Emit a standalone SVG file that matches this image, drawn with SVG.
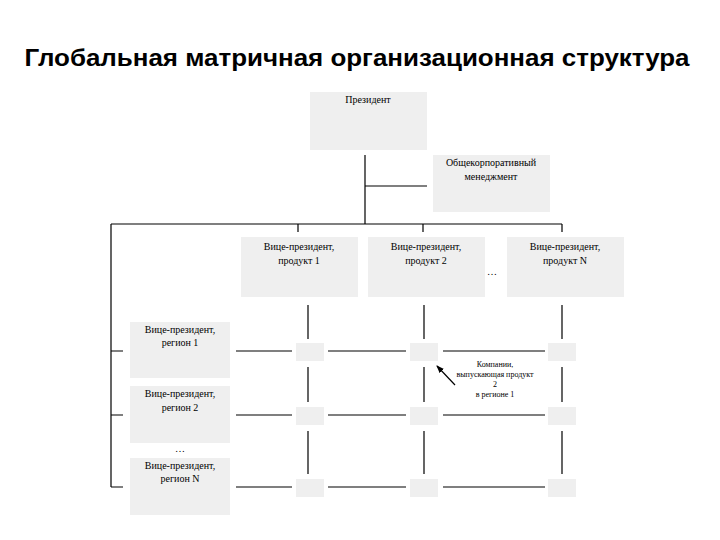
<svg xmlns="http://www.w3.org/2000/svg" width="720" height="540" viewBox="0 0 720 540">
<style>
.b{fill:#efefef}
.t{font-family:"Liberation Serif",serif;font-size:10px;text-anchor:middle;fill:#000}
.s{font-family:"Liberation Serif",serif;font-size:8px;text-anchor:middle;fill:#000}
.l{stroke:#000;stroke-width:1.2;fill:none}
</style>
<defs><marker id="a" markerWidth="8" markerHeight="8" refX="7" refY="4" orient="auto" markerUnits="userSpaceOnUse"><path d="M0,1 L8,4 L0,7Z" fill="#000"/></marker></defs>
<rect width="720" height="540" fill="#fff"/>
<text x="357" y="66" font-family="Liberation Sans,sans-serif" font-weight="bold" font-size="23" text-anchor="middle" textLength="665" lengthAdjust="spacingAndGlyphs">Глобальная матричная организационная структура</text>
<g id="connectors">
<path class="l" d="M365 155V224M365 186H427M111 224H562M298 224V232M423 224V232M562 224V232M111 224V487"/>
<path class="l" d="M111 351H123M111 415H123M111 487H123"/>
<path class="l" d="M236 351H292M328 351H406M443 351H545M236 415H292M328 415H406M443 415H545M236 487H292M328 487H406M443 487H545"/>
<path class="l" d="M308 305V339M308 367V402M308 431V474M424 305V339M424 367V402M424 431V474M562 305V339M562 367V402M562 431V474"/>
<path class="l" d="M455 385L437 366" marker-end="url(#a)"/>
</g>
<g id="president"><rect class="b" x="310" y="92" width="117" height="58"/><text class="t" x="368" y="103">Президент</text></g>
<g id="corp"><rect class="b" x="433" y="155" width="117" height="57"/><text class="t" x="491" y="166">Общекорпоративный</text><text class="t" x="491" y="180">менеджмент</text></g>
<g id="p1"><rect class="b" x="241" y="237" width="117" height="60"/><text class="t" x="299" y="250">Вице-президент,</text><text class="t" x="299" y="264">продукт 1</text></g>
<g id="p2"><rect class="b" x="368" y="237" width="117" height="60"/><text class="t" x="426" y="250">Вице-президент,</text><text class="t" x="426" y="264">продукт 2</text></g>
<text class="t" x="492" y="275">…</text>
<g id="pN"><rect class="b" x="507" y="237" width="117" height="60"/><text class="t" x="565" y="250">Вице-президент,</text><text class="t" x="565" y="264">продукт N</text></g>
<g id="r1"><rect class="b" x="130" y="322" width="100" height="56"/><text class="t" x="180" y="333">Вице-президент,</text><text class="t" x="180" y="346">регион 1</text></g>
<g id="r2"><rect class="b" x="130" y="386" width="100" height="57"/><text class="t" x="180" y="397">Вице-президент,</text><text class="t" x="180" y="411">регион 2</text></g>
<text class="t" x="180" y="452">…</text>
<g id="rN"><rect class="b" x="130" y="458" width="100" height="57"/><text class="t" x="180" y="469">Вице-президент,</text><text class="t" x="180" y="482">регион N</text></g>
<g id="cells">
<rect class="b" x="296" y="343" width="28" height="18"/><rect class="b" x="410" y="343" width="28" height="18"/><rect class="b" x="548" y="343" width="28" height="18"/>
<rect class="b" x="296" y="407" width="28" height="18"/><rect class="b" x="410" y="407" width="28" height="18"/><rect class="b" x="548" y="407" width="28" height="18"/>
<rect class="b" x="296" y="479" width="28" height="18"/><rect class="b" x="410" y="479" width="28" height="18"/><rect class="b" x="548" y="479" width="28" height="18"/>
</g>
<g id="note"><text class="s" x="495" y="367">Компании,</text><text class="s" x="495" y="377">выпускающая продукт</text><text class="s" x="495" y="387">2</text><text class="s" x="495" y="397">в регионе 1</text></g>
</svg>
